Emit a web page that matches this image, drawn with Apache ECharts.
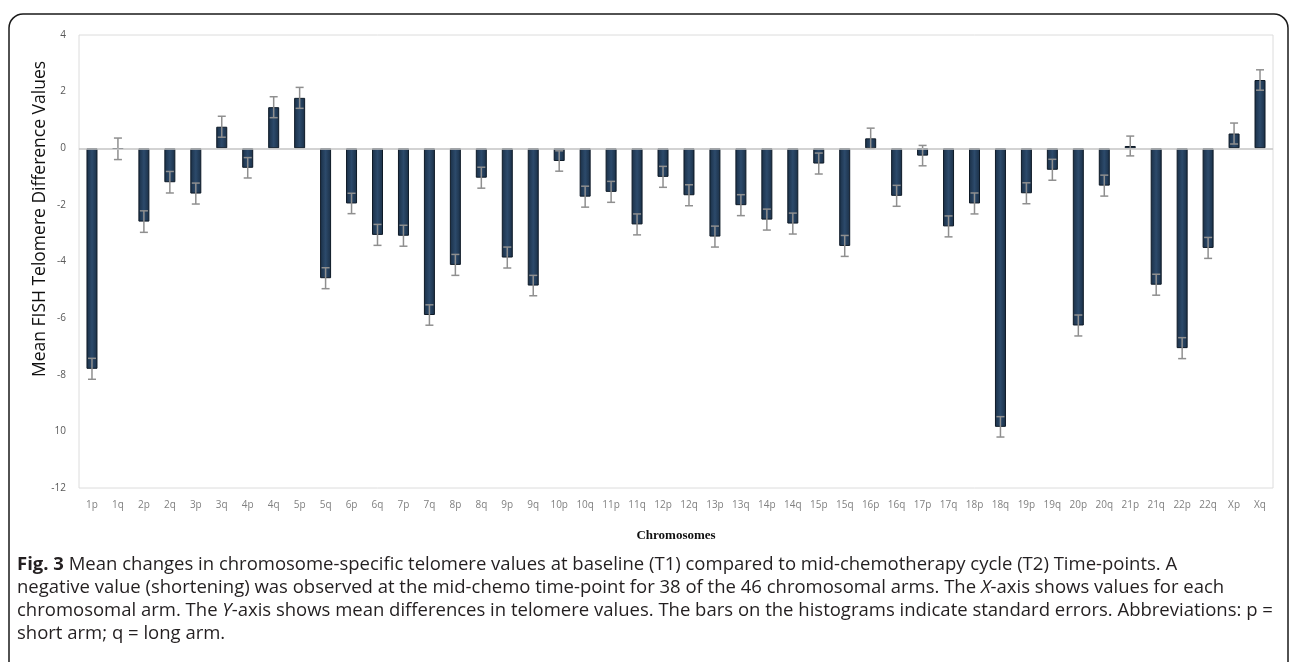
<!DOCTYPE html>
<html>
<head>
<meta charset="utf-8">
<script src="https://cdn.jsdelivr.net/npm/echarts@6/dist/echarts.min.js"></script>
<style>
html,body{margin:0;padding:0;background:#fff;}
#chart{width:1290px;height:662px;}
</style>
</head>
<body>
<div id="chart"></div>
<script>
var categories = ['1p','1q','2p','2q','3p','3q','4p','4q','5p','5q','6p','6q','7p','7q','8p','8q','9p','9q','10p','10q','11p','11q','12p','12q','13p','13q','14p','14q','15p','15q','16p','16q','17p','17q','18p','18q','19p','19q','20p','20q','21p','21q','22p','22q','Xp','Xq'];
var meanDiff = [-7.79,-0.02,-2.59,-1.20,-1.60,0.76,-0.69,1.45,1.78,-4.59,-1.95,-3.06,-3.09,-5.89,-4.12,-1.04,-3.86,-4.85,-0.45,-1.71,-1.54,-2.69,-1.01,-1.66,-3.12,-2.01,-2.52,-2.66,-0.54,-3.45,0.35,-1.68,-0.26,-2.76,-1.95,-9.84,-1.59,-0.76,-6.26,-1.32,0.08,-4.82,-7.06,-3.52,0.52,2.41];
var stdErr = [0.37,0.38,0.38,0.38,0.37,0.37,0.36,0.37,0.37,0.37,0.36,0.37,0.37,0.36,0.37,0.37,0.37,0.36,0.36,0.37,0.37,0.37,0.37,0.37,0.37,0.37,0.37,0.37,0.37,0.37,0.36,0.37,0.36,0.37,0.37,0.36,0.37,0.37,0.37,0.37,0.35,0.37,0.37,0.37,0.37,0.36];
var yTickLabels = {'4':'4','2':'2','0':'0','-2':'-2','-4':'-4','-6':'-6','-8':'-8','-10':'10','-12':'-12'};
var yTitle = 'Mean FISH Telomere Difference Values';
var xTitle = 'Chromosomes';
var captionLines = [
  '{b|Fig. 3} Mean changes in chromosome-specific telomere values at baseline (T1) compared to mid-chemotherapy cycle (T2) Time-points. A',
  'negative value (shortening) was observed at the mid-chemo time-point for 38 of the 46 chromosomal arms. The {i|X}-axis shows values for each',
  'chromosomal arm. The {i|Y}-axis shows mean differences in telomere values. The bars on the histograms indicate standard errors. Abbreviations: p =',
  'short arm; q = long arm.'
];

var chart = echarts.init(document.getElementById('chart'), null, {renderer:'canvas'});
var errData = meanDiff.map(function(v,i){return [i, v - stdErr[i], v + stdErr[i]];});

var capSize = 18.5;
var graphics = [
  {type:'rect', shape:{x:9, y:14, width:1279, height:720, r:14}, style:{fill:'none', stroke:'#1a1a1a', lineWidth:1.5}, z:100, silent:true},
  {type:'text', x:40, y:219, rotation:Math.PI/2, style:{text:yTitle, font:'17.5px "Open Sans", sans-serif', fill:'#111', textAlign:'center', textVerticalAlign:'middle'}},
  {type:'text', x:676, y:536, style:{text:xTitle, font:'bold 13px "Liberation Serif", serif', fill:'#111', textAlign:'center', textVerticalAlign:'middle'}}
];
var lineY = [565, 588, 611, 634];
captionLines.forEach(function(t, k){
  graphics.push({type:'text', x:17, y:lineY[k], style:{
    text:t, fontFamily:'"Open Sans", sans-serif', fontSize:capSize, fill:'#231f20', textVerticalAlign:'middle',
    rich:{
      b:{fontWeight:'bold', fontFamily:'"Open Sans", sans-serif', fontSize:capSize, fill:'#231f20'},
      i:{fontStyle:'italic', fontFamily:'"Open Sans", sans-serif', fontSize:capSize, fill:'#231f20'}
    }
  }});
});

var option = {
  animation:false,
  backgroundColor:'#fff',
  grid:{left:79, right:17, top:35, bottom:174, show:true, borderColor:'#dcdcdc', borderWidth:1, containLabel:false},
  xAxis:{
    type:'category', data:categories,
    axisLine:{show:false}, axisTick:{show:false},
    axisLabel:{color:'#808080', fontSize:10, fontFamily:'"Open Sans", sans-serif', margin:12, interval:0}
  },
  yAxis:{
    type:'value', min:-12, max:4, interval:2,
    splitLine:{show:false}, axisLine:{show:false}, axisTick:{show:false},
    axisLabel:{color:'#595959', fontSize:10, fontFamily:'"Open Sans", sans-serif', margin:13,
      formatter:function(v){return yTickLabels[String(v)] !== undefined ? yTickLabels[String(v)] : String(v);}}
  },
  series:[
    {
      type:'bar', data:meanDiff, barWidth:11,
      itemStyle:{
        borderColor:'#0e1a27', borderWidth:1,
        color:new echarts.graphic.LinearGradient(0,0,1,0,[
          {offset:0,color:'#1a2f46'},{offset:0.5,color:'#2c4a6b'},{offset:1,color:'#1a2f46'}
        ])
      },
      markLine:{
        silent:true, symbol:'none', label:{show:false},
        lineStyle:{color:'#c4c4c4', width:1.5, type:'solid'},
        data:[{yAxis:0}]
      },
      z:2
    },
    {
      type:'custom', data:errData, z:3,
      renderItem:function(params, api){
        var x = api.value(0);
        var lo = api.coord([x, api.value(1)]);
        var hi = api.coord([x, api.value(2)]);
        var hw = 4;
        var st = {stroke:'#8f8f8f', lineWidth:1.5};
        return {type:'group', children:[
          {type:'line', shape:{x1:lo[0], y1:lo[1], x2:hi[0], y2:hi[1]}, style:st},
          {type:'line', shape:{x1:lo[0]-hw, y1:lo[1], x2:lo[0]+hw, y2:lo[1]}, style:st},
          {type:'line', shape:{x1:hi[0]-hw, y1:hi[1], x2:hi[0]+hw, y2:hi[1]}, style:st}
        ]};
      }
    }
  ],
  graphic:graphics
};
chart.setOption(option);
</script>
</body>
</html>
